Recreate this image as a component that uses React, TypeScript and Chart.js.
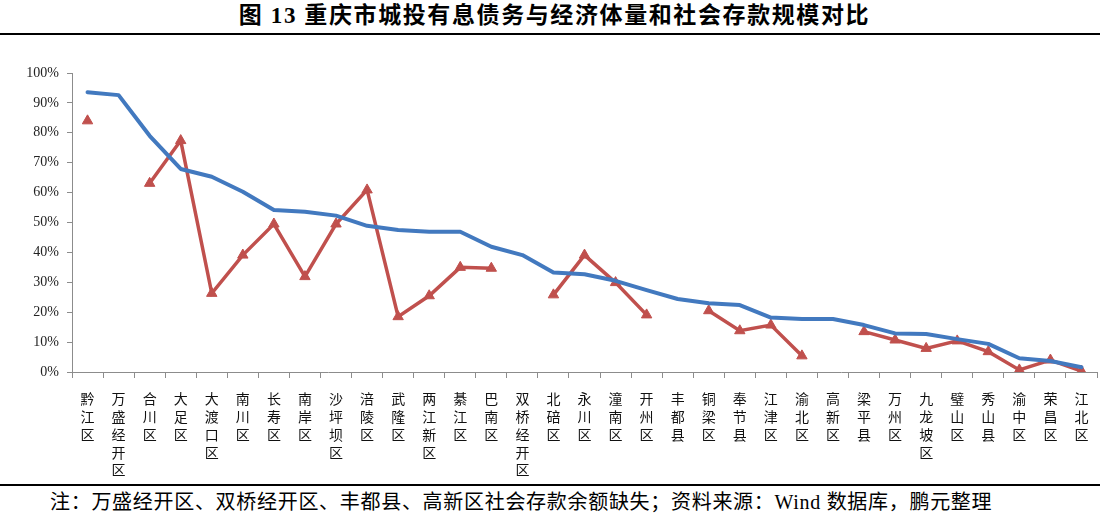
import React, { useEffect, useRef } from "react";
import { Chart, registerables } from "chart.js";

Chart.register(...registerables);

const categories: string[] = [
  "黔江区", "万盛经开区", "合川区", "大足区", "大渡口区", "南川区", "长寿区", "南岸区", "沙坪坝区",
  "涪陵区", "武隆区", "两江新区", "綦江区", "巴南区", "双桥经开区", "北碚区", "永川区", "潼南区",
  "开州区", "丰都县", "铜梁区", "奉节县", "江津区", "渝北区", "高新区", "梁平县", "万州区",
  "九龙坡区", "璧山区", "秀山县", "渝中区", "荣昌区", "江北区",
];

// 城投有息债务 / 经济体量 (blue)
const debtToGdp: number[] = [
  0.936, 0.926, 0.79, 0.679, 0.653, 0.603, 0.542, 0.536, 0.523,
  0.489, 0.475, 0.469, 0.469, 0.419, 0.391, 0.333, 0.327, 0.305,
  0.274, 0.244, 0.23, 0.224, 0.182, 0.177, 0.177, 0.157, 0.129,
  0.127, 0.11, 0.094, 0.046, 0.037, 0.016,
];

// 城投有息债务 / 社会存款 (red)
const debtToDeposit: (number | null)[] = [
  0.84, null, 0.631, 0.774, 0.263, 0.391, 0.495, 0.319, 0.495,
  0.609, 0.185, 0.255, 0.35, 0.347, null, 0.258, 0.391, 0.299,
  0.191, null, 0.205, 0.138, 0.157, 0.054, null, 0.135, 0.107,
  0.079, 0.104, 0.068, 0.007, 0.04, 0.003,
];

const yTicks: number[] = [0, 0.1, 0.2, 0.3, 0.4, 0.5, 0.6, 0.7, 0.8, 0.9, 1.0];

const title = "图 13 重庆市城投有息债务与经济体量和社会存款规模对比";
const note = "注：万盛经开区、双桥经开区、丰都县、高新区社会存款余额缺失；资料来源：Wind 数据库，鹏元整理";

export default function App() {
  const canvasRef = useRef<HTMLCanvasElement | null>(null);

  useEffect(() => {
    if (!canvasRef.current) return;
    const chart = new Chart(canvasRef.current, {
      type: "line",
      data: {
        labels: categories.map((c) => c.split("")),
        datasets: [
          {
            label: "有息债务/GDP",
            data: debtToGdp,
            borderColor: "#4279BF",
            backgroundColor: "#4279BF",
            borderWidth: 4,
            pointRadius: 0,
            tension: 0,
            borderCapStyle: "round",
            borderJoinStyle: "round",
          },
          {
            label: "有息债务/社会存款",
            data: debtToDeposit,
            borderColor: "#C0504D",
            backgroundColor: "#C0504D",
            borderWidth: 3.5,
            pointStyle: "triangle",
            pointRadius: 6,
            pointBorderWidth: 1,
            spanGaps: false,
            tension: 0,
            borderJoinStyle: "miter",
          },
        ],
      },
      options: {
        animation: false,
        responsive: false,
        maintainAspectRatio: false,
        layout: { padding: { top: 33, right: 12, left: 0, bottom: 0 } },
        plugins: { legend: { display: false }, tooltip: { enabled: false } },
        scales: {
          x: {
            type: "category",
            offset: true,
            grid: {
              offset: true,
              drawOnChartArea: false,
              drawTicks: true,
              tickLength: 6,
              color: "#8c8c8c",
            },
            border: { color: "#8c8c8c", width: 1 },
            ticks: {
              autoSkip: false,
              maxRotation: 0,
              minRotation: 0,
              padding: 12,
              color: "#111",
              font: { family: "'Noto Sans CJK SC', sans-serif", size: 14, lineHeight: "17.8px" },
            },
            afterFit: (scale: any) => {
              scale.height = 108;
            },
          },
          y: {
            min: 0,
            max: 1,
            afterBuildTicks: (scale: any) => {
              scale.ticks = yTicks.map((v) => ({ value: v }));
            },
            grid: {
              drawOnChartArea: false,
              drawTicks: true,
              tickLength: 5,
              color: "#8c8c8c",
            },
            border: { color: "#8c8c8c", width: 1 },
            ticks: {
              padding: 8,
              color: "#222",
              font: { family: "'Liberation Serif', 'Times New Roman', serif", size: 14 },
              callback: (v: any) => `${Math.round(Number(v) * 100)}%`,
            },
            afterFit: (scale: any) => {
              scale.width = 72;
            },
          },
        },
      },
    });
    return () => chart.destroy();
  }, []);

  return (
    <div style={{ position: "absolute", left: 0, top: 0, width: 1109, height: 524, background: "#fff" }}>
      <div
        style={{
          position: "absolute",
          left: 0,
          top: 2,
          width: 1109,
          textAlign: "center",
          fontFamily: "'Liberation Serif', 'Noto Sans CJK SC', serif",
          fontWeight: "bold",
          fontSize: 23,
          letterSpacing: "1.6px",
          lineHeight: "28px",
          color: "#000",
        }}
      >
        {title}
      </div>
      <div style={{ position: "absolute", left: 0, top: 33, width: 1100, height: 2, background: "#000" }} />
      <canvas
        ref={canvasRef}
        width={1109}
        height={440}
        style={{ position: "absolute", left: 0, top: 40, width: 1109, height: 440 }}
      />
      <div style={{ position: "absolute", left: 0, top: 484, width: 1100, height: 2, background: "#000" }} />
      <div
        style={{
          position: "absolute",
          left: 50,
          top: 489,
          fontFamily: "'Liberation Serif', 'Noto Sans CJK SC', serif",
          fontSize: 20,
          letterSpacing: "0.7px",
          lineHeight: "26px",
          color: "#000",
          whiteSpace: "nowrap",
        }}
      >
        {note}
      </div>
    </div>
  );
}
